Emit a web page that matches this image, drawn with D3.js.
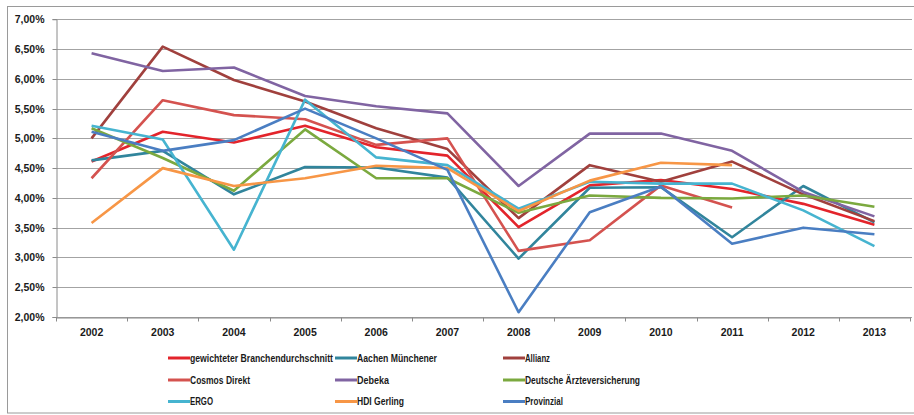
<!DOCTYPE html>
<html>
<head>
<meta charset="utf-8">
<script src="https://cdn.jsdelivr.net/npm/d3@7"></script>
<style>
  html, body { margin: 0; padding: 0; background: #ffffff; }
  svg { display: block; }
  .axis text { font-family: "Liberation Sans", Arial, sans-serif; font-weight: bold; font-size: 10.5px; fill: #1a1a1a; }
  .legend text { font-family: "Liberation Sans", Arial, sans-serif; font-weight: bold; font-size: 10.5px; fill: #1a1a1a; }
</style>
</head>
<body>
<svg id="chart" width="914" height="415"></svg>
<script>
const years = ["2002","2003","2004","2005","2006","2007","2008","2009","2010","2011","2012","2013"];
const yTicks = [2.0, 2.5, 3.0, 3.5, 4.0, 4.5, 5.0, 5.5, 6.0, 6.5, 7.0];

const seriesNames = [
  "gewichteter Branchendurchschnitt",
  "Aachen Münchener",
  "Allianz",
  "Cosmos Direkt",
  "Debeka",
  "Deutsche Ärzteversicherung",
  "ERGO",
  "HDI Gerling",
  "Provinzial"
];
const seriesColors = ["#E3242B","#31859C","#A0403D","#D4524F","#8064A2","#7BA93F","#46B4D0","#F79646","#4A7EC2"];

const branchendurchschnitt = [4.61, 5.11, 4.93, 5.21, 4.85, 4.71, 3.51, 4.21, 4.30, 4.15, 3.90, 3.55];
const aachenMuenchener     = [4.63, 4.79, 4.06, 4.52, 4.51, 4.34, 2.98, 4.17, 4.18, 3.34, 4.20, 3.59];
const allianz              = [5.00, 6.54, 5.98, 5.62, 5.17, 4.82, 3.66, 4.55, 4.27, 4.61, 4.06, 3.61];
const cosmosDirekt         = [4.33, 5.64, 5.39, 5.32, 4.89, 5.00, 3.11, 3.29, 4.21, 3.84, null, null];
const debeka               = [6.43, 6.13, 6.19, 5.71, 5.54, 5.42, 4.20, 5.08, 5.08, 4.79, 4.10, 3.69];
const deutscheAerzte       = [5.17, 4.67, 4.12, 5.15, 4.33, 4.33, 3.75, 4.04, 4.00, 3.99, 4.04, 3.85];
const ergo                 = [5.21, 4.98, 3.13, 5.65, 4.68, 4.55, 3.82, 4.27, 4.24, 4.24, 3.79, 3.19];
const hdiGerling           = [3.58, 4.50, 4.20, 4.33, 4.54, 4.50, 3.78, 4.29, 4.59, 4.55, null, null];
const provinzial           = [5.11, 4.79, 4.97, 5.50, 5.00, 4.47, 2.08, 3.76, 4.19, 3.23, 3.50, 3.39];

const seriesValues = [branchendurchschnitt, aachenMuenchener, allianz, cosmosDirekt, debeka,
                      deutscheAerzte, ergo, hdiGerling, provinzial];

// legend label widths (layout, condensed font look)
const legendTextWidths = [143, 80, 25, 60, 32, 115, 23, 47, 38];

const svg = d3.select("#chart");

// outer frame
svg.append("rect")
  .attr("x", 7.5).attr("y", 6.5).attr("width", 920).attr("height", 406.5)
  .attr("fill", "none").attr("stroke", "#9a9a9a").attr("stroke-width", 1);

const pLeft = 56, pRight = 910, pTop = 19.25, pBottom = 317;

const x = d3.scaleBand().domain(years).range([pLeft, pRight]).paddingInner(0).paddingOuter(0);
const y = d3.scaleLinear().domain([2, 7]).range([pBottom, pTop]);
const cx = d => x(d) + x.bandwidth() / 2;

// gridlines
svg.append("g")
  .selectAll("line")
  .data(yTicks)
  .join("line")
  .attr("x1", pLeft).attr("x2", pRight + 2)
  .attr("y1", d => Math.round(y(d)) + 0.5).attr("y2", d => Math.round(y(d)) + 0.5)
  .attr("stroke", "#a3a3a3").attr("stroke-width", 1);

// y axis
const yAxis = d3.axisLeft(y)
  .tickValues(yTicks)
  .tickSize(4)
  .tickPadding(8)
  .tickFormat(d => d3.format(".2f")(d).replace(".", ",") + "%");
const gy = svg.append("g").attr("class", "axis").attr("transform", `translate(${pLeft + 0.5},0)`).call(yAxis);
gy.select(".domain").attr("stroke", "#8a8a8a");
gy.selectAll(".tick line").attr("stroke", "#8a8a8a");
gy.selectAll(".tick").attr("transform", d => `translate(0,${Math.round(y(d)) + 0.5})`);

// x axis
const xAxis = d3.axisBottom(x).tickSize(0).tickPadding(11);
const gx = svg.append("g").attr("class", "axis").attr("transform", `translate(0,${Math.round(pBottom) + 0.5})`).call(xAxis);
gx.select(".domain").attr("stroke", "#8a8a8a");
// boundary tick marks
gx.append("g").selectAll("line")
  .data(years.concat(["end"]))
  .join("line")
  .attr("x1", (d, i) => Math.round(pLeft + i * x.bandwidth()) + 0.5)
  .attr("x2", (d, i) => Math.round(pLeft + i * x.bandwidth()) + 0.5)
  .attr("y1", 0).attr("y2", 4)
  .attr("stroke", "#8a8a8a");

// lines
const line = d3.line()
  .defined(d => d.v !== null)
  .x(d => cx(d.year))
  .y(d => y(d.v));

const gLines = svg.append("g");
seriesValues.forEach((vals, i) => {
  const pts = years.map((yr, j) => ({ year: yr, v: vals[j] }));
  gLines.append("path")
    .datum(pts)
    .attr("d", line)
    .attr("fill", "none")
    .attr("stroke", seriesColors[i])
    .attr("stroke-width", 2.6)
    .attr("stroke-linejoin", "round")
    .attr("stroke-linecap", "butt");
});

// legend
const legendCols = [168, 335, 503];
const legendRows = [358, 380, 401.5];
const lg = svg.append("g").attr("class", "legend");
seriesNames.forEach((name, i) => {
  const col = i % 3, row = Math.floor(i / 3);
  const lx = legendCols[col], ly = legendRows[row];
  lg.append("line")
    .attr("x1", lx).attr("x2", lx + 22)
    .attr("y1", ly).attr("y2", ly)
    .attr("stroke", seriesColors[i]).attr("stroke-width", 3);
  lg.append("text")
    .attr("x", lx + 22).attr("y", ly)
    .attr("dy", "0.35em")
    .attr("textLength", legendTextWidths[i])
    .attr("lengthAdjust", "spacingAndGlyphs")
    .text(name);
});
</script>
</body>
</html>
